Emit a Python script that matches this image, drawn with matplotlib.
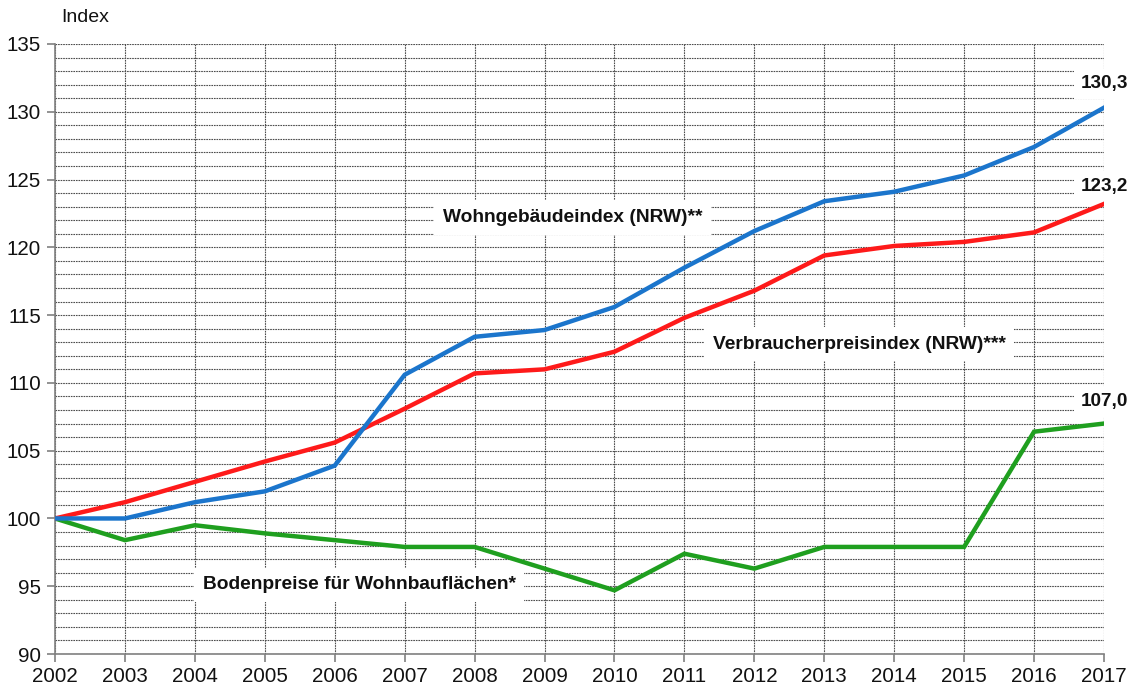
import matplotlib
matplotlib.use("Agg")
import matplotlib.pyplot as plt
from matplotlib.ticker import MultipleLocator

plt.rcParams['font.family'] = ['Liberation Sans', 'DejaVu Sans']

years = list(range(2002, 2018))
wohngebaeude = [100.0, 100.0, 101.2, 102.0, 103.9, 110.6, 113.4, 113.9, 115.6,
                118.5, 121.2, 123.4, 124.1, 125.3, 127.4, 130.3]
verbraucherpreise = [100.0, 101.2, 102.7, 104.2, 105.6, 108.1, 110.7, 111.0, 112.3,
                     114.8, 116.8, 119.4, 120.1, 120.4, 121.1, 123.2]
bodenpreise = [100.0, 98.4, 99.5, 98.9, 98.4, 97.9, 97.9, 96.3, 94.7,
               97.4, 96.3, 97.9, 97.9, 97.9, 106.4, 107.0]

series_labels = ["Wohngebäudeindex (NRW)**", "Verbraucherpreisindex (NRW)***",
                 "Bodenpreise für Wohnbauflächen*"]
colors = ["#1b75cc", "#fe1a1a", "#1f9f1f"]

fig = plt.figure(figsize=(11.42, 6.86), dpi=100)
ax = fig.add_axes([0.0482, 0.0466, 0.9185, 0.8893])

for vals, c in zip([bodenpreise, verbraucherpreise, wohngebaeude], colors[::-1]):
    ax.plot(years, vals, color=c, lw=3.2, solid_joinstyle='miter', zorder=3)

ax.set_xlim(2002, 2017)
ax.set_ylim(90, 135)
ax.xaxis.set_major_locator(MultipleLocator(1))
ax.yaxis.set_major_locator(MultipleLocator(5))
ax.yaxis.set_minor_locator(MultipleLocator(1))

grid_kw = dict(color='#4d4d4d', lw=0.8, linestyle=(0, (1.5, 0.8)))
ax.grid(True, which='major', axis='both', **grid_kw)
ax.grid(True, which='minor', axis='y', **grid_kw)
ax.set_axisbelow(True)

for s in ['top', 'right']:
    ax.spines[s].set_visible(False)
for s in ['left', 'bottom']:
    ax.spines[s].set_color('#808080')
    ax.spines[s].set_linewidth(1.2)

ax.tick_params(axis='both', which='major', direction='out', length=6,
               color='#808080', width=1.2, labelsize=14.8, labelcolor='#111111')
ax.tick_params(axis='y', which='minor', length=0)
ax.tick_params(axis='x', pad=3)
ax.tick_params(axis='y', pad=4)

fig.text(0.054, 0.975, "Index", fontsize=14, ha='left', va='center', color='#111111')

box = dict(boxstyle='square,pad=0.45', fc='white', ec='none')
label_kw = dict(fontsize=13.8, fontweight='bold', color='#111111', ha='center',
                va='center', bbox=box, zorder=4)
ax.text(2009.4, 122.2, series_labels[0], **label_kw)
ax.text(2013.5, 112.85, series_labels[1], **label_kw)
ax.text(2006.35, 95.1, series_labels[2], **label_kw)

end_kw = dict(fontsize=13.6, fontweight='bold', color='#111111', ha='center',
              va='center', bbox=dict(boxstyle='square,pad=0.35', fc='white', ec='none'),
              zorder=4, clip_on=False)
for vals, dy in zip([wohngebaeude, verbraucherpreise, bodenpreise], [1.75, 1.3, 1.6]):
    ax.text(2017.0, vals[-1] + dy, f"{vals[-1]:.1f}".replace('.', ','), **end_kw)

fig.savefig("out.png", dpi=100)
